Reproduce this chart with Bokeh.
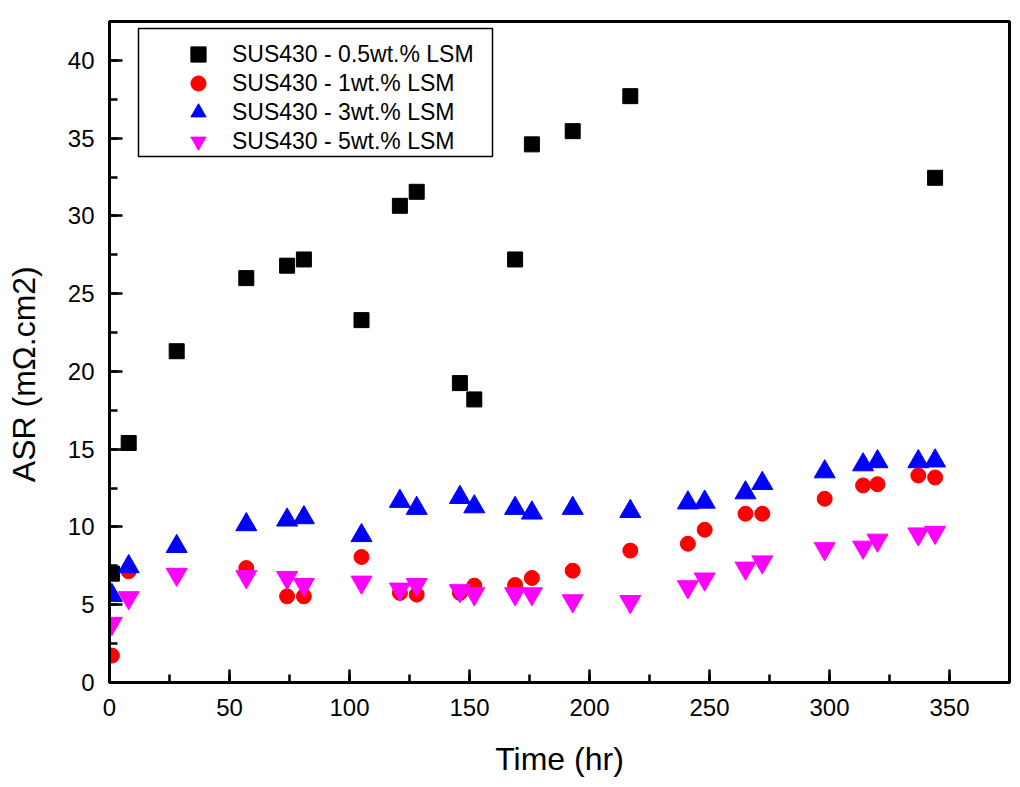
from bokeh.plotting import figure
from bokeh.models import Range1d, SingleIntervalTicker, Legend, LegendItem, BoxAnnotation
from bokeh.embed import file_html
from bokeh.resources import INLINE

# ---- data ----
t_05 = [1, 8, 28, 57, 74, 81, 105, 121, 128, 146, 152, 169, 176, 193, 217, 344]
asr_05 = [7.0, 15.4, 21.3, 26.0, 26.8, 27.2, 23.3, 30.65, 31.55, 19.25, 18.2, 27.2, 34.6, 35.45, 37.7, 32.45]

t_1 = [1, 8, 57, 74, 81, 105, 121, 128, 146, 152, 169, 176, 193, 217, 241, 248, 265, 272, 298, 314, 320, 337, 344]
asr_1 = [1.73, 7.15, 7.36, 5.54, 5.54, 8.07, 5.76, 5.65, 5.76, 6.23, 6.27, 6.72, 7.19, 8.48, 8.92, 9.82,
         10.85, 10.85, 11.81, 12.67, 12.75, 13.31, 13.18]

t_3 = [1, 8, 28, 57, 74, 81, 105, 121, 128, 146, 152, 169, 176, 193, 217, 241, 248, 265, 272, 298, 314, 320, 337, 344]
asr_3 = [5.6, 7.45, 8.75, 10.15, 10.45, 10.6, 9.45, 11.65, 11.2, 11.9, 11.3, 11.2, 10.9, 11.2, 11.0, 11.55,
         11.6, 12.2, 12.8, 13.55, 14.0, 14.2, 14.2, 14.25]

t_5 = [1, 8, 28, 57, 74, 81, 105, 121, 128, 146, 152, 169, 176, 193, 217, 241, 248, 265, 272, 298, 314, 320, 337, 344]
asr_5 = [3.8, 5.45, 6.95, 6.8, 6.75, 6.3, 6.45, 6.0, 6.3, 5.9, 5.7, 5.7, 5.7, 5.25, 5.2, 6.15,
         6.65, 7.35, 7.75, 8.6, 8.7, 9.15, 9.55, 9.65]

labels = ["SUS430 - 0.5wt.% LSM", "SUS430 - 1wt.% LSM", "SUS430 - 3wt.% LSM", "SUS430 - 5wt.% LSM"]
x_title = "Time (hr)"
y_title = "ASR (mΩ.cm2)"

FONT = "Liberation Sans"

p = figure(width=1012, height=779, output_backend="svg", toolbar_location=None,
           x_range=Range1d(0, 375), y_range=Range1d(0, 42.5),
           min_border_left=109, min_border_top=21, min_border_right=3, min_border_bottom=96)

p.background_fill_color = "white"
p.border_fill_color = "white"
p.outline_line_color = "black"
p.outline_line_width = 3
p.grid.visible = False

p.xaxis.ticker = SingleIntervalTicker(interval=50, num_minor_ticks=2)
p.yaxis.ticker = SingleIntervalTicker(interval=5, num_minor_ticks=2)

for ax in (p.xaxis[0], p.yaxis[0]):
    ax.axis_line_width = 3
    ax.axis_line_color = "black"
    ax.major_tick_in = 13
    ax.major_tick_out = 0
    ax.minor_tick_in = 8
    ax.minor_tick_out = 0
    ax.major_tick_line_width = 2.5
    ax.minor_tick_line_width = 2.5
    ax.major_label_text_font = FONT
    ax.major_label_text_font_size = "24px"
    ax.major_label_text_color = "black"
    ax.axis_label_text_font = FONT
    ax.axis_label_text_font_size = "32px"
    ax.axis_label_text_font_style = "normal"
    ax.axis_label_text_color = "black"

p.xaxis.major_label_standoff = 16
p.yaxis.major_label_standoff = 15
p.xaxis.axis_label = x_title
p.xaxis.axis_label_standoff = 22
# trailing no-break spaces move the visible title slightly below the frame centre, as in the reference
p.yaxis.axis_label = y_title + "\u00a0" * 5
p.yaxis.axis_label_standoff = 23

r1 = p.scatter(t_05, asr_05, marker="square", size=15, fill_color="black", line_color="black")
r2 = p.scatter(t_1, asr_1, marker="circle", size=15, fill_color="#ff0000", line_color="#ff0000")
r3 = p.scatter(t_3, asr_3, marker="triangle", size=21, fill_color="#0000ff", line_color="#0000ff")
r4 = p.scatter(t_5, asr_5, marker="inverted_triangle", size=21, fill_color="#ff00ff", line_color="#ff00ff")

# legend frame
p.add_layout(BoxAnnotation(left=29, right=383, top=654, bottom=526,
                           left_units="screen", right_units="screen",
                           top_units="screen", bottom_units="screen",
                           fill_color="white", fill_alpha=1.0,
                           line_color="black", line_width=1.5, line_alpha=1.0))

# one legend per row so the markers can be large while rows stay close together
renderers = [r1, r2, r3, r4]
row_bottoms = [609, 580, 551, 522]
for lab, rend, yb in zip(labels, renderers, row_bottoms):
    lg = Legend(items=[LegendItem(label=lab, renderers=[rend])], location=(70, yb),
                orientation="vertical")
    lg.border_line_color = None
    lg.background_fill_alpha = 0
    lg.label_text_font = FONT
    lg.label_text_font_size = "23px"
    lg.label_text_color = "black"
    lg.glyph_height = 38
    lg.label_height = 38
    lg.glyph_width = 38
    lg.padding = 0
    lg.spacing = 0
    lg.label_standoff = 15
    lg.margin = 0
    p.add_layout(lg)

open("out.html", "w").write(file_html(p, INLINE))
